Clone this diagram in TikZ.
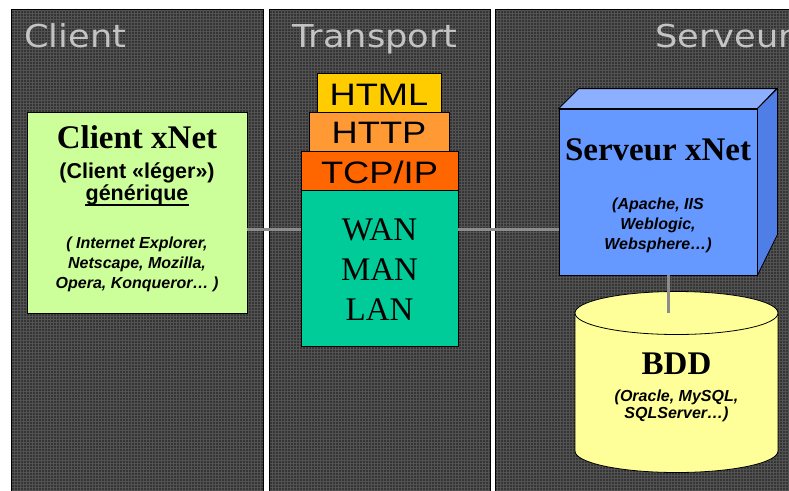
\documentclass[tikz,border=0pt]{standalone}
\usepackage{fontspec}
\setmainfont{Liberation Serif}
\newfontfamily\arialf{Liberation Sans}
\newfontfamily\verdf{DejaVu Sans}

\definecolor{panelbg}{HTML}{353535}
\definecolor{panelgrid}{HTML}{525252}
\definecolor{titlegray}{HTML}{C4C4C4}
\definecolor{clientgreen}{HTML}{CCFF99}
\definecolor{htmlyellow}{HTML}{FFCC00}
\definecolor{httporange}{HTML}{FF9933}
\definecolor{tcporange}{HTML}{FF6600}
\definecolor{wangreen}{HTML}{00CC99}
\definecolor{cubefront}{HTML}{6699FF}
\definecolor{cubetop}{HTML}{8CB0FF}
\definecolor{cubeside}{HTML}{4F7FE6}
\definecolor{dbyellow}{HTML}{FFFF99}
\definecolor{linkgray}{HTML}{8C8C8C}

\newcommand{\fsz}[1]{\fontsize{#1}{#1}\selectfont}

\begin{document}
\begin{tikzpicture}[x=1pt,y=-1pt,
  panel/.style={draw=black, line width=1.2pt, fill=panelbg, anchor=north west,
    inner sep=0pt,
    path picture={\draw[panelgrid, line width=0.9pt, step=3pt]
      (path picture bounding box.south west) grid (path picture bounding box.north east);}},
  paneltitle/.style={inner sep=0pt, anchor=base west, text=titlegray,
    font=\verdf\fsz{31.5}},
  txt/.style={inner sep=0pt, anchor=base},
  box/.style={draw=black, line width=0.8pt, inner sep=0pt},
  layer/.style={box, minimum height=39},
  layertext/.style={txt, font=\arialf\fsz{31}},
  bigserif/.style={txt, font=\bfseries\fsz{33}},
  smallnote/.style={txt, font=\arialf\bfseries\itshape\fsz{16}},
  link/.style={draw=linkgray, line width=3pt}
]
\useasboundingbox (0,0) rectangle (789,490);
\clip (0,0) rectangle (789,490);
\fill[white] (0,0) rectangle (789,490);

% three tiers
\node[panel, minimum width=252, minimum height=500] (pclient) at (11,9) {};
\node[panel, minimum width=221, minimum height=500] (ptransport) at (269,9) {};
\node[panel, minimum width=310, minimum height=500] (pserver) at (495,9) {};

\node[paneltitle] (tclient) at (24,47) {\scalebox{1.12}[1]{Client}};
\node[paneltitle] (ttransport) at (292,47) {\scalebox{1.12}[1]{Transport}};
\node[paneltitle] (tserver) at (655,47) {\scalebox{1.12}[1]{Serveur}};

% links between tiers
\coordinate (linky) at (0,229);

% client box
\node[box, fill=clientgreen, minimum width=220, minimum height=201] (client) at (137,212.5) {};
\node[bigserif] (clientname) at (137,148) {Client xNet};
\node[txt, font=\arialf\bfseries\fsz{21.5}] (clientkind) at (137,178) {(Client «léger»)};
\node[txt, font=\arialf\bfseries\fsz{21.5}] (clientgen) at (137,200) {générique};
\draw[line width=1.5pt] ([yshift=-5pt]clientgen.base west) -- ([yshift=-5pt]clientgen.base east);
\node[smallnote] (cl1) at (137,248) {( Internet Explorer,};
\node[smallnote] (cl2) at (137,268) {Netscape, Mozilla,};
\node[smallnote] (cl3) at (137,288) {Opera, Konqueror… )};

% protocol stack
\node[layer, fill=htmlyellow, minimum width=124] (html) at (379,92.5) {};
\node[layer, fill=httporange, minimum width=140] (http) at (379,131.5) {};
\node[layer, fill=tcporange, minimum width=157] (tcp) at (379.5,170.5) {};
\node[box, fill=wangreen, minimum width=157, minimum height=156] (wan) at (379.5,268) {};
\node[layertext] (thtml) at (379,105) {\scalebox{1.17}[1]{HTML}};
\node[layertext] (thttp) at (379,143.5) {\scalebox{1.17}[1]{HTTP}};
\node[layertext] (ttcp) at (379.5,183) {\scalebox{1.17}[1]{TCP/IP}};
\node[txt, font=\fsz{33}] (twan) at (379.5,240) {WAN};
\node[txt, font=\fsz{33}] (tman) at (379.5,280) {MAN};
\node[txt, font=\fsz{33}] (tlan) at (379.5,320) {LAN};

% server cube
\node[box, fill=cubefront, minimum width=198, minimum height=166] (server) at (658,192) {};
\filldraw[fill=cubetop, draw=black, line width=0.8pt]
  (server.north west) -- ++(20,-20) -- ++(198,0) -- (server.north east) -- cycle;
\filldraw[fill=cubeside, draw=black, line width=0.8pt]
  (server.north east) -- ++(20,-20) -- ++(0,146) -- (server.south east) -- cycle;
\node[bigserif] (servername) at (658,160) {Serveur xNet};
\node[smallnote] (sv1) at (658,209.5) {(Apache, IIS};
\node[smallnote] (sv2) at (658,229.5) {Weblogic,};
\node[smallnote] (sv3) at (658,249.5) {Websphere…)};

% database cylinder
\coordinate (dbtop) at (676.5,313);
\coordinate (dbbot) at (676.5,451);
\fill[dbyellow] (575,313) rectangle (778,451);
\fill[dbyellow] (dbbot) ellipse [x radius=101.5, y radius=21.5];
\draw[line width=0.8pt] (575,313) -- (575,451)
  arc[start angle=180, end angle=0, x radius=101.5, y radius=21.5] -- (778,313);
\filldraw[fill=dbyellow, draw=black, line width=0.8pt] (dbtop) ellipse [x radius=101.5, y radius=21.5];
\node[inner sep=0pt, minimum width=203, minimum height=140] (bdd) at (676.5,382) {};
\node[bigserif] (bddname) at (676.5,374) {BDD};
\node[smallnote] (db1) at (676.5,401) {(Oracle, MySQL,};
\node[smallnote] (db2) at (676.5,418) {SQLServer…)};

% connectors
\draw[link] (client.east |- linky) -- (wan.west |- linky);
\draw[link] (wan.east |- linky) -- (server.west |- linky);
\coordinate (dblink) at (668,313);
\draw[link] ([xshift=10pt]server.south) -- (dblink);
\end{tikzpicture}
\end{document}
